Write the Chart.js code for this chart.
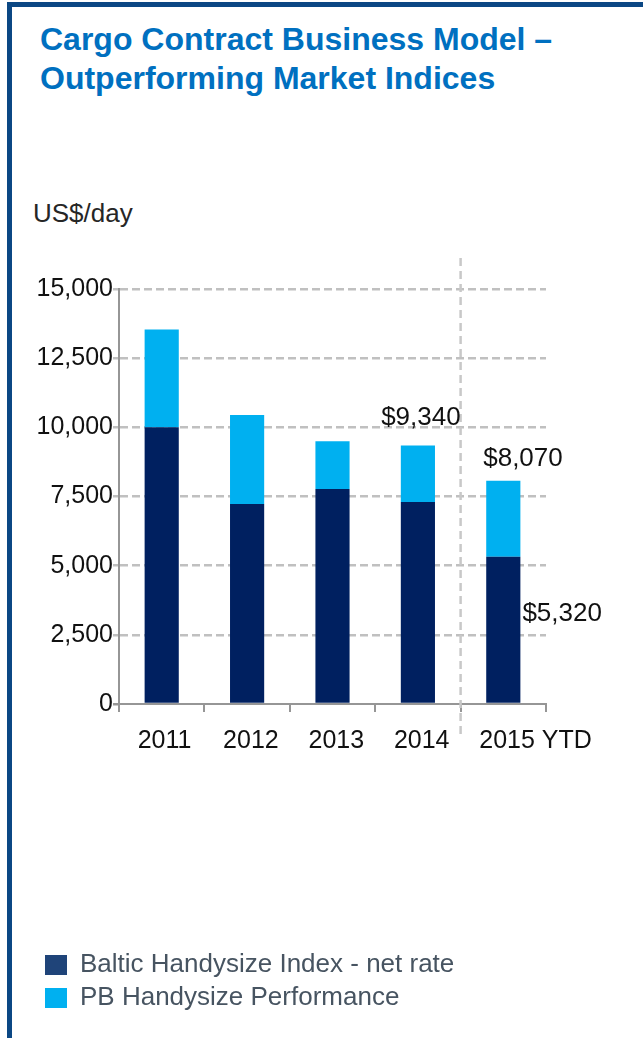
<!DOCTYPE html>
<html lang="en">
<head>
  <meta charset="UTF-8">
  <title>Cargo Contract Business Model</title>
  <script src="https://cdn.jsdelivr.net/npm/chart.js"></script>
  <style>
    body { margin: 0; background: #fff; font-family: "Liberation Sans", Arial, sans-serif; }
    #page { position: relative; width: 643px; height: 1038px; overflow: hidden; }
    #frame {
      position: absolute; left: 7px; top: 2px; width: 700px; height: 1100px;
      border-top: 5px solid #0b4784; border-left: 5px solid #0b4784;
    }
    #title {
      position: absolute; left: 40px; top: 20px;
      font-size: 32px; font-weight: bold; line-height: 39px; color: #0070c0;
    }
    #unit { position: absolute; left: 33px; top: 200px; font-size: 26px; line-height: 26px; color: #262626; }
    #taskChart { position: absolute; left: 0; top: 0; }
  </style>
</head>
<body>
<div id="page">
  <div id="frame"></div>
  <div id="title">Cargo Contract Business Model –<br>Outperforming Market Indices</div>
  <div id="unit">US$/day</div>
  <canvas id="taskChart" width="643" height="1038"></canvas>
</div>

<script>
const years = ["2011", "2012", "2013", "2014", "2015 YTD"];
const balticRate = [10000, 7230, 7770, 7300, 5320];
const pbExtra = [3540, 3220, 1730, 2040, 2750];
const yTicks = [0, 2500, 5000, 7500, 10000, 12500, 15000];
const topLabels = ["", "", "", "$9,340", "$8,070"];
const baseLabels = ["", "", "", "", "$5,320"];

const FONT = "'Liberation Sans', Arial, sans-serif";
const legendColors = ["#1f4479", "#00b0f0"];

// dashed divider between 2014 and 2015 YTD
const dividerPlugin = {
  id: "divider",
  beforeDatasetsDraw(chart) {
    const { ctx, chartArea, scales } = chart;
    const x = scales.x.getPixelForValue(3.5);
    ctx.save();
    ctx.strokeStyle = "#c8c8c8";
    ctx.lineWidth = 2.5;
    ctx.setLineDash([8, 5]);
    ctx.beginPath();
    ctx.moveTo(x, chartArea.top - 31);
    ctx.lineTo(x, chartArea.bottom + 34);
    ctx.stroke();
    ctx.restore();
  }
};

// value labels next to the bars
const labelPlugin = {
  id: "valueLabels",
  afterDatasetsDraw(chart) {
    const ctx = chart.ctx;
    const base = chart.getDatasetMeta(0).data;
    const tops = chart.getDatasetMeta(1).data;
    ctx.save();
    ctx.font = "26px " + FONT;
    ctx.fillStyle = "#111";
    ctx.textBaseline = "alphabetic";
    topLabels.forEach((t, i) => {
      if (!t) return;
      const bar = tops[i];
      if (i === years.length - 1) {
        ctx.textAlign = "left";
        ctx.fillText(t, bar.x - bar.width / 2 - 3, bar.y - 15);
      } else {
        ctx.textAlign = "center";
        ctx.fillText(t, bar.x + 3, bar.y - 21);
      }
    });
    baseLabels.forEach((t, i) => {
      if (!t) return;
      const bar = base[i];
      ctx.textAlign = "left";
      ctx.fillText(t, bar.x + bar.width / 2 + 2, bar.y + 64);
    });
    ctx.restore();
  }
};

const ctx = document.getElementById("taskChart").getContext("2d");
new Chart(ctx, {
  type: "bar",
  data: {
    labels: years,
    datasets: [
      { label: "Baltic Handysize Index - net rate", data: balticRate, backgroundColor: "#002060" },
      { label: "PB Handysize Performance", data: pbExtra, backgroundColor: "#00b0f0" }
    ]
  },
  options: {
    responsive: false,
    animation: false,
    categoryPercentage: 1,
    barPercentage: 0.4,
    layout: { padding: { left: 38, right: 97, top: 289, bottom: 17 } },
    plugins: {
      tooltip: { enabled: false },
      legend: {
        position: "bottom",
        align: "start",
        labels: {
          boxWidth: 22,
          boxHeight: 20,
          padding: 7,
          color: "#475461",
          font: { family: FONT, size: 26 },
          generateLabels(chart) {
            const items = Chart.defaults.plugins.legend.labels.generateLabels(chart);
            items.forEach((it, i) => { it.fillStyle = legendColors[i]; it.lineWidth = 0; });
            return items;
          }
        }
      }
    },
    scales: {
      x: {
        stacked: true,
        afterFit(scale) { scale.height = 241; },
        grid: { drawOnChartArea: false, color: "#969696", lineWidth: 2, tickLength: 8 },
        border: { color: "#969696", width: 2 },
        ticks: {
          color: "#111",
          padding: 14,
          autoSkip: false,
          maxRotation: 0,
          minRotation: 0,
          align: "start",
          labelOffset: -24,
          font: { family: FONT, size: 25 }
        }
      },
      y: {
        stacked: true,
        min: 0,
        max: 15000,
        afterFit(scale) { scale.width = 81; },
        afterBuildTicks(scale) { scale.ticks = yTicks.map(v => ({ value: v })); },
        grid: {
          color: c => (c.tick && c.tick.value === 0) ? "rgba(0,0,0,0)" : "#c0c0c0",
          lineWidth: 2.5,
          tickLength: 6,
          tickColor: c => (c.tick && c.tick.value === 0) ? "#969696" : "#c0c0c0"
        },
        border: { color: "#969696", width: 2, dash: [8, 4] },
        ticks: {
          color: "#111",
          padding: 0,
          font: { family: FONT, size: 25 },
          callback: v => v.toLocaleString("en-US")
        }
      }
    }
  },
  plugins: [dividerPlugin, labelPlugin]
});
</script>
</body>
</html>
